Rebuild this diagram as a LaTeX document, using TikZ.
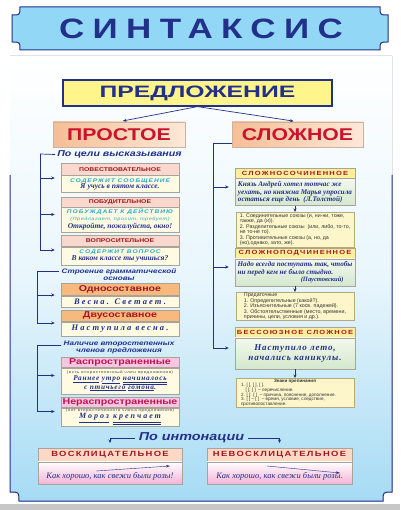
\documentclass[tikz,border=0pt]{standalone}
\usepackage{fontspec}
\setmainfont{Liberation Serif}
\setsansfont{Liberation Sans}
\newfontfamily\widesans[FakeStretch=1.25]{Liberation Sans}
\newfontfamily\xwidesans[FakeStretch=1.5]{Liberation Sans}
\usetikzlibrary{positioning,calc,arrows.meta}

\definecolor{navy}{HTML}{22308A}
\definecolor{titlefill}{HTML}{92D7F5}
\definecolor{predfill}{HTML}{FFF58A}
\definecolor{redtxt}{HTML}{C8142C}
\definecolor{darkred}{HTML}{A3161F}
\definecolor{peachL}{HTML}{F6BE95}
\definecolor{peachR}{HTML}{FDE8D8}
\definecolor{kindline}{HTML}{C9B3A3}
\definecolor{cardline}{HTML}{A9A39A}
\definecolor{hdrpink}{HTML}{FAD8CD}
\definecolor{cream}{HTML}{FFFBE3}
\definecolor{hintc}{HTML}{27A8CC}
\definecolor{orangeh}{HTML}{F7B97E}
\definecolor{pinkh}{HTML}{F8C6E0}
\definecolor{crimson}{HTML}{C01452}
\definecolor{yellowh}{HTML}{FCEF9C}
\definecolor{greenT}{HTML}{F3F8EC}
\definecolor{greenB}{HTML}{D4E8CE}
\definecolor{listfill}{HTML}{FDF6CB}
\definecolor{listline}{HTML}{B3AB7C}
\definecolor{voskh}{HTML}{FCD9C6}
\definecolor{voskb}{HTML}{F3B4D6}
\definecolor{boardblue}{HTML}{A6DBF4}

\newcommand\hintf{\color{hintc}\widesans\bfseries\itshape\fontsize{5.3}{6}\selectfont\addfontfeature{LetterSpace=18}}
\newcommand\notef{\color{hintc}\widesans\itshape\fontsize{4.5}{5}\selectfont\addfontfeature{LetterSpace=10}}
\newcommand\examf{\bfseries\itshape\fontsize{7.5}{8.5}\selectfont}
\newcommand\tinyf{\color{black!75}\widesans\fontsize{3.6}{4.5}\selectfont\addfontfeature{LetterSpace=15}}

\begin{document}
\begin{tikzpicture}[x=1pt,y=-1pt,
  conn/.style={navy,line width=.7pt},
  arr/.style={conn,-{Stealth[length=3.5pt,width=3pt]},shorten >=#1},
  arr/.default=6pt,
  kind/.style={draw=kindline,line width=.6pt,left color=peachL,right color=peachR,
    minimum width=132pt,minimum height=25pt,inner sep=0pt,text=redtxt,
    font=\widesans\bfseries\fontsize{17}{18}\selectfont},
  hdr/.style={draw=cardline,line width=.5pt,fill=hdrpink,minimum width=118pt,
    minimum height=#1,inner sep=0pt,text=darkred,
    font=\widesans\bfseries\fontsize{5.5}{6}\selectfont},
  bodyc/.style={draw=cardline,line width=.5pt,fill=cream,minimum width=118pt,
    minimum height=#1,inner sep=0pt,align=center,text=navy,
    font=\fontsize{5}{6.5}\selectfont},
  bighdr/.style={hdr=#1,font=\widesans\bfseries\fontsize{8.5}{9}\selectfont},
  rhdr/.style={hdr=#1,fill=yellowh,minimum width=120pt,
    font=\widesans\bfseries\fontsize{6}{7}\selectfont\addfontfeature{LetterSpace=20}},
  rbody/.style={bodyc=#1,minimum width=120pt,top color=greenT,bottom color=greenB},
  lst/.style={draw=listline,line width=.5pt,fill=listfill,minimum width=118pt,
    minimum height=#1,inner sep=0pt,align=left,text=black!80,
    font=\sffamily\fontsize{5.3}{5.5}\selectfont},
  grp/.style={text=navy,inner sep=2pt,align=center,
    font=\widesans\bfseries\itshape\fontsize{6.5}{7}\selectfont},
  ihdr/.style={hdr=13pt,fill=voskh,
    font=\widesans\bfseries\fontsize{7.5}{8}\selectfont\addfontfeature{LetterSpace=18}},
  ibody/.style={bodyc=22pt,top color=white,bottom color=voskb,
    font=\itshape\fontsize{8.5}{9}\selectfont}]

\useasboundingbox (0,0) rectangle (400,510);

% board
\fill[top color=white,bottom color=boardblue,middle color=boardblue!25]
  (10,56) -- (392,56) -- (392,492) .. controls (383,492) .. (383,501)
  -- (19,501) .. controls (19,492) .. (10,492) -- cycle;
\draw[navy,line width=1pt] (10,175) -- (10,492) .. controls (19,492) .. (19,501)
  -- (383,501) .. controls (383,492) .. (392,492) -- (392,175);
\fill[black!22] (0,504) rectangle (400,510);

% title
\draw[navy,line width=1pt,fill=titlefill] (12,15) .. controls (20,15) .. (20,7)
  -- (380,7) .. controls (380,15) .. (388,15) -- (388,42) .. controls (380,42) .. (380,50)
  -- (20,50) .. controls (20,42) .. (12,42) -- cycle;
\node[text=navy,font=\widesans\bfseries\fontsize{28}{30}\selectfont\addfontfeature{LetterSpace=30}]
  (title) at (201,29) {СИНТАКСИС};

\node[draw=navy,line width=1.2pt,fill=predfill,minimum width=269pt,minimum height=26pt,
  text=navy,font=\xwidesans\bfseries\fontsize{16.5}{18}\selectfont] (pred) at (197.5,93)
  {ПРЕДЛОЖЕНИЕ};
\node[kind] (prost) at (119,134.5) {ПРОСТОЕ};
\node[kind,minimum width=131pt] (slozh) at (297.5,134.5) {СЛОЖНОЕ};
\draw[arr=4pt] (pred.south) -- (prost.north);
\draw[arr=4pt] (pred.south) -- (slozh.north);

% simple sentence
\node[grp,font=\widesans\bfseries\itshape\fontsize{8.5}{9}\selectfont] (goal) at (119.5,154.5) {По цели высказывания};
\node[hdr=12pt,anchor=north] (pov-h) at (120,163) {ПОВЕСТВОВАТЕЛЬНОЕ};
\node[bodyc=17pt,below=0pt of pov-h] (pov-b) {{\hintf СОДЕРЖИТ СООБЩЕНИЕ}\\{\examf Я учусь в пятом классе.}};
\node[hdr=10pt,anchor=north] (pob-h) at (120,197) {ПОБУДИТЕЛЬНОЕ};
\node[bodyc=24pt,below=0pt of pob-h] (pob-b) {{\hintf ПОБУЖДАЕТ К ДЕЙСТВИЮ}\\{\notef (Предлагает, просит, требует)}\\[2pt]{\examf Откройте, пожалуйста, окно!}};
\node[hdr=11pt,anchor=north] (vop-h) at (120,235) {ВОПРОСИТЕЛЬНОЕ};
\node[bodyc=18pt,below=0pt of vop-h] (vop-b) {{\hintf СОДЕРЖИТ ВОПРОС}\\{\examf В каком классе ты учишься?}};

\node[grp] (stro) at (119,274.5) {Строение грамматической\\основы};
\node[bighdr=12pt,fill=orangeh,anchor=north] (one-h) at (120,283) {Односоставное};
\node[bodyc=11pt,below=0pt of one-h,font=\examf\fontsize{8.5}{9}\selectfont\addfontfeature{LetterSpace=25}] (one-b) {Весна. Светает.};
\node[bighdr=11pt,fill=orangeh,anchor=north] (two-h) at (120,310) {Двусоставное};
\node[bodyc=14pt,below=0pt of two-h,font=\examf\fontsize{8.5}{9}\selectfont\addfontfeature{LetterSpace=25}] (two-b) {Наступила весна.};

\node[grp] (nal) at (119,347.5) {Наличие второстепенных\\членов предложения};
\node[bighdr=10pt,fill=pinkh,text=crimson,anchor=north] (ras-h) at (120,357) {Распространенные};
\node[bodyc=26pt,below=0pt of ras-h] (ras-b) {{\tinyf (есть второстепенный член предложения)}\\[1pt]{\examf\fontsize{7.3}{7.5}\selectfont\addfontfeature{LetterSpace=10}\underline{Раннее} \underline{утро} \underline{\underline{начиналось}}}\\{\examf\fontsize{7.3}{7.5}\selectfont\addfontfeature{LetterSpace=10}с \underline{птичьего} \underline{гомона}.}};
\node[bighdr=10pt,fill=pinkh,text=crimson,anchor=north] (ner-h) at (120,397) {Нераспространенные};
\node[bodyc=18pt,below=0pt of ner-h] (ner-b) {{\tinyf (нет второстепенного члена предложения)}\\[1pt]{\examf\fontsize{8}{8.5}\selectfont\addfontfeature{LetterSpace=25}\underline{Мороз} \underline{\underline{крепчает}}}};

\coordinate (gbr) at (40,154);
\coordinate (sbr) at (37,271);
\coordinate (nbr) at (37,345);
\draw[conn] (goal.west) -- (gbr);
\draw[arr] (gbr) |- ($(pov-h.north west)!.5!(pov-b.south west)$);
\draw[arr] (gbr) |- ($(pob-h.north west)!.5!(pob-b.south west)$);
\draw[arr] (gbr) |- ($(vop-h.north west)!.5!(vop-b.south west)$);
\draw[conn] (stro.north west |- sbr) -- (sbr);
\draw[arr] (sbr) |- ($(one-h.north west)!.5!(one-b.south west)$);
\draw[arr] (sbr) |- ($(two-h.north west)!.5!(two-b.south west)$);
\draw[conn] (nal.north west |- nbr) -- (nbr);
\draw[arr] (nbr) |- ($(ras-h.north west)!.5!(ras-b.south west)$);
\draw[arr] (nbr) |- ($(ner-h.north west)!.5!(ner-b.south west)$);

% complex sentence
\node[rhdr=10pt,anchor=north] (soch-h) at (295,168) {СЛОЖНОСОЧИНЕННОЕ};
\node[rbody=27pt,below=0pt of soch-h,align=left,font=\examf\fontsize{7.2}{7.6}\selectfont] (soch-b) {Князь Андрей хотел тотчас же\\уехать, но княжна Марья упросила\\остаться еще день~~(Л.Толстой)};
\node[lst=35pt,anchor=north] (lst1) at (295,212) {1. Соединительные союзы (и, ни-ни, тоже,\\также, да (и)).\\2. Разделительные союзы~ (или, либо, то-то,\\не то-не то).\\3. Противительные союзы (а, но, да\\(но),однако, зато, же).};
\node[rhdr=10pt,anchor=north] (podch-h) at (295,248) {СЛОЖНОПОДЧИНЕННОЕ};
\node[rbody=27pt,below=0pt of podch-h,align=left,font=\examf\fontsize{7.2}{7.6}\selectfont] (podch-b) {Надо всегда поступать так, чтобы\\ни перед кем не было стыдно.\\\makebox[106pt][r]{\fontsize{6.5}{7}\selectfont(Паустовский)}};
\node[lst=28pt,anchor=north] (lst2) at (295,292) {Придаточные\\1. Определительные (какой?).\\2. Изъяснительные (7 косв. падежей).\\3. Обстоятельственные (место, времени,\\причины, цели, условия и др.).};
\node[rhdr=10pt,anchor=north] (bess-h) at (295,327) {БЕССОЮЗНОЕ СЛОЖНОЕ};
\node[rbody=31pt,below=0pt of bess-h,font=\examf\fontsize{9}{10}\selectfont\addfontfeature{LetterSpace=10}] (bess-b) {Наступило лето,\\начались каникулы.};
\node[lst=29pt,anchor=north,font=\sffamily\fontsize{4.6}{4.7}\selectfont] (lst3) at (295,378) {\makebox[108pt]{\textbf{Знаки препинания}}\\1. [ ], [ ], [ ].\\\quad[ ]; [ ]~ -- перечисление.\\2. [ ]: [ ]~ -- причина, пояснение, дополнение.\\3. [ ] -- [ ]~ -- время, условие, следствие,\\противопоставление.};

\coordinate (rbr) at (213,143);
\draw[conn] (slozh.west |- rbr) -- (rbr);
\draw[arr] (rbr) |- ($(soch-h.north west)!.5!(soch-b.south west)$);
\draw[arr] (rbr) |- ($(podch-h.north west)!.5!(podch-b.south west)$);
\draw[arr] (rbr) |- ($(bess-h.north west)!.5!(bess-b.south west)$);
\draw[arr=0pt] (soch-b.south) -- (lst1.north);
\draw[arr=0pt] (podch-b.south) -- (lst2.north);
\draw[arr=0pt] (bess-b.south) -- (lst3.north);

% intonation
\node[grp,inner sep=4pt,font=\widesans\bfseries\itshape\fontsize{11.5}{12}\selectfont] (intn) at (191.5,438) {По интонации};
\node[ihdr,minimum width=144pt,anchor=north] (vosk-h) at (110,448) {ВОСКЛИЦАТЕЛЬНОЕ};
\node[ibody,minimum width=144pt,below=0pt of vosk-h] (vosk-b) {\smash{\raisebox{-6pt}{Как хорошо, как свежи были розы!}}};
\node[ihdr,minimum width=145pt,anchor=north] (nevo-h) at (279.5,448) {НЕВОСКЛИЦАТЕЛЬНОЕ};
\node[ibody,minimum width=145pt,below=0pt of nevo-h] (nevo-b) {\smash{\raisebox{-6pt}{Как хорошо, как свежи были розы.}}};
\draw[arr=5pt] (intn.west) -| (vosk-h.north);
\draw[arr=5pt] (intn.east) -| (nevo-h.north);
\coordinate (up1) at (96,471);
\coordinate (up2) at (170,466);
\coordinate (dn1) at (267,466);
\coordinate (dn2) at (340,473);
\draw[navy,line width=.4pt,-{Stealth[length=4pt,width=2.5pt]}] (up1) -- (up2);
\draw[navy,line width=.4pt,-{Stealth[length=4pt,width=2.5pt]}] (dn1) -- (dn2);
\end{tikzpicture}
\end{document}
